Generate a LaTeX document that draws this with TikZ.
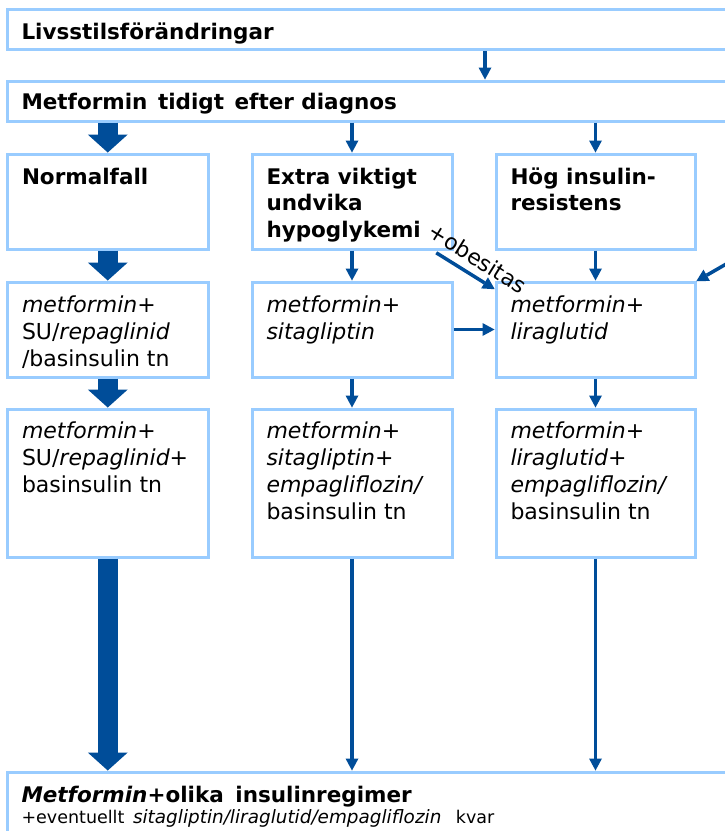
\documentclass[tikz,border=0pt]{standalone}
\usepackage{fontspec}
\setmainfont{DejaVu Sans}
\usetikzlibrary{arrows.meta,calc}
\definecolor{boxblue}{RGB}{153,204,255}
\definecolor{arrblue}{RGB}{0,77,153}
\tikzset{
  box/.style={draw=boxblue, line width=3pt, fill=white, rectangle, inner sep=0pt, outer sep=0pt, anchor=north west},
  txt/.style={anchor=base west, inner sep=0pt, outer sep=0pt, font=\fontsize{22}{27}\selectfont},
  btxt/.style={anchor=base west, inner sep=0pt, outer sep=0pt, font=\fontsize{21.5}{26.5}\selectfont\bfseries},
  thinarr/.style={draw=arrblue, line width=3.5pt, -{Triangle[width=13pt,length=12pt,line width=0pt]}, shorten >=1.5pt, shorten <=1.5pt},
  thickarr/.style={draw=arrblue, line width=20pt, -{Triangle[width=40pt,length=18pt,line width=0pt]}, shorten >=1.5pt, shorten <=1.5pt},
}
\begin{document}
\begin{tikzpicture}[x=1pt,y=1pt]
\useasboundingbox (0,0) rectangle (725,-831);
\clip (0,0) rectangle (725,-831);
\fill[white] (0,0) rectangle (725,-831);

% boxes
\node[box, minimum width=740pt, minimum height=40pt] (live) at (7.5,-9.5) {};
\node[box, minimum width=740pt, minimum height=40pt] (metf) at (7.5,-81) {};
\node[box, minimum width=200.5pt, minimum height=95pt] (norm) at (7.5,-154) {};
\node[box, minimum width=200pt, minimum height=95pt] (hypo) at (252,-154) {};
\node[box, minimum width=199pt, minimum height=95pt] (hog) at (496,-154) {};
\node[box, minimum width=200.5pt, minimum height=95pt] (su) at (7.5,-282) {};
\node[box, minimum width=200pt, minimum height=95pt] (sita) at (252,-282) {};
\node[box, minimum width=199pt, minimum height=95pt] (lira) at (496,-282) {};
\node[box, minimum width=200.5pt, minimum height=148pt] (su3) at (7.5,-409) {};
\node[box, minimum width=200pt, minimum height=148pt] (sita3) at (252,-409) {};
\node[box, minimum width=199pt, minimum height=148pt] (lira3) at (496,-409) {};
\node[box, minimum width=740pt, minimum height=100pt] (final) at (7.5,-772) {};

% texts
\node[btxt] (tlive) at ($(live.north west)+(14,-29.5)$) {Livsstilsförändringar};
\node[btxt] (tmetf) at ($(metf.north west)+(14,-28)$) {Metformin\hspace{3pt} tidigt\hspace{3pt} efter diagnos};
\node[btxt] (tnorm) at ($(norm.north west)+(14.5,-30)$) {\parbox[t]{185pt}{Normalfall}};
\node[btxt] (thypo) at ($(hypo.north west)+(14.5,-30)$) {\parbox[t]{185pt}{Extra viktigt\\undvika\\hypoglykemi}};
\node[btxt] (thog) at ($(hog.north west)+(14.5,-30)$) {\parbox[t]{185pt}{Hög insulin-\\resistens}};
\node[txt] (tsu) at ($(su.north west)+(14.5,-30)$) {\parbox[t]{185pt}{\textit{metformin+}\\SU/\textit{repaglinid}\\/basinsulin tn}};
\node[txt] (tsita) at ($(sita.north west)+(14.5,-30)$) {\parbox[t]{185pt}{\textit{metformin+}\\\textit{sitagliptin}}};
\node[txt] (tlira) at ($(lira.north west)+(14.5,-30)$) {\parbox[t]{185pt}{\textit{metformin+}\\\textit{liraglutid}}};
\node[txt] (tsu3) at ($(su3.north west)+(14.5,-29)$) {\parbox[t]{185pt}{\textit{metformin+}\\SU/\textit{repaglinid+}\\basinsulin tn}};
\node[txt] (tsita3) at ($(sita3.north west)+(14.5,-29)$) {\parbox[t]{185pt}{\textit{metformin+}\\\textit{sitagliptin+}\\\textit{empagliflozin/}\\basinsulin tn}};
\node[txt] (tlira3) at ($(lira3.north west)+(14.5,-29)$) {\parbox[t]{185pt}{\textit{metformin+}\\\textit{liraglutid+}\\\textit{empagliflozin/}\\basinsulin tn}};
\node[btxt] (tfinal) at ($(final.north west)+(14,-30)$) {\textit{Metformin}+olika\hspace{4pt} insulinregimer};
\node[txt, font=\fontsize{17.5}{20}\selectfont] (tfinal2) at ($(final.north west)+(14,-51)$) {+eventuellt\hspace{3pt} {\fontsize{18.4}{20}\selectfont\textit{sitagliptin/liraglutid/empagliflozin}}\hspace{9pt} kvar};

% arrows
\coordinate (a1) at (485,0);
\draw[thinarr] (a1 |- live.south) -- (a1 |- metf.north);
\draw[thickarr] (norm.north |- metf.south) -- (norm.north);
\draw[thinarr] (hypo.north |- metf.south) -- (hypo.north);
\draw[thinarr] (hog.north |- metf.south) -- (hog.north);
\draw[thickarr] (norm.south) -- (su.north);
\draw[thinarr] (hypo.south) -- (sita.north);
\draw[thinarr] (hog.south) -- (lira.north);
\draw[thickarr] (su.south) -- (su3.north);
\draw[thinarr] (sita.south) -- (sita3.north);
\draw[thinarr] (lira.south) -- (lira3.north);
\draw[thickarr] (su3.south) -- (su3.south |- final.north);
\draw[thinarr] (sita3.south) -- (sita3.south |- final.north);
\draw[thinarr] (lira3.south) -- (lira3.south |- final.north);
\draw[thinarr] (sita.east) -- (lira.west);
\draw[thinarr] ($(hypo.south east)+(-17,-3)$) -- ($(lira.north west)+(0,-8)$)
  node[pos=0.55, sloped, above=7pt, inner sep=0pt, font=\fontsize{22}{26}\selectfont] (obes) {+obesitas};
\coordinate (ext) at (747,-252);
\draw[thinarr] (ext) -- (lira.north east);
\end{tikzpicture}
\end{document}
